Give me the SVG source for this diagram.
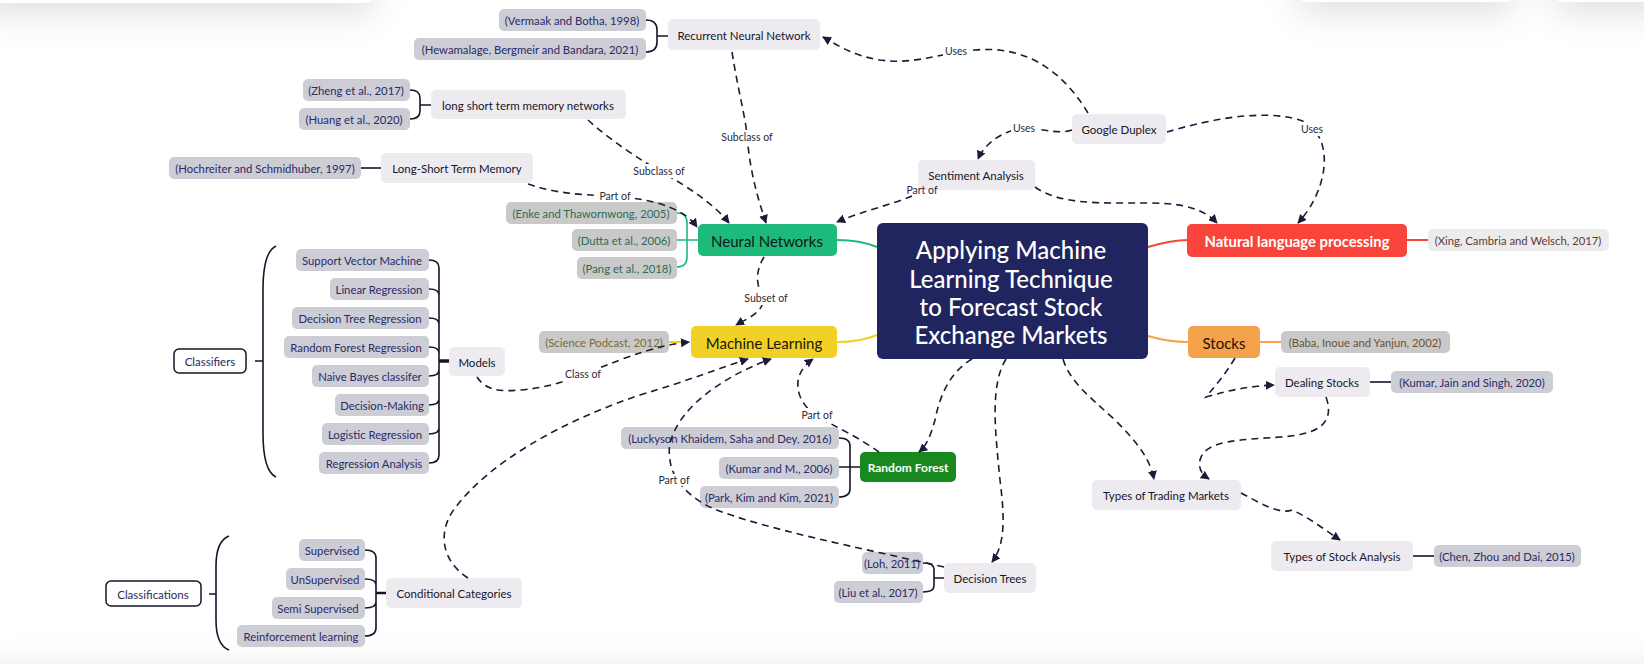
<svg xmlns="http://www.w3.org/2000/svg" width="1644" height="666" viewBox="0 0 1644 666">
<defs>
<filter id="sh" x="-50%" y="-200%" width="200%" height="500%"><feDropShadow dx="0" dy="8" stdDeviation="18" flood-color="#000" flood-opacity="0.14"/></filter>
<marker id="ah" viewBox="0 0 10 10" refX="9" refY="5" markerWidth="9" markerHeight="9" markerUnits="userSpaceOnUse" orient="auto"><path d="M0,0 L10,5 L0,10 z" fill="#1b1b3a"/></marker>
<style>
text{font-family:Lato,"Open Sans","Liberation Sans",sans-serif;dominant-baseline:central;text-anchor:middle}
.cite rect{fill:#cdcdd6}
.cite text{font-size:11.3px;fill:#2a2a66}
.cg rect{fill:#c9c9c9}
.plain rect{fill:#edebef}
.plain text{font-size:11.5px;fill:#15152b}
.out rect{fill:#fff;stroke:#15152b;stroke-width:1.5}
.out text{font-size:11.5px;fill:#2a2a55}
.dash{fill:none;stroke:#1b1b3a;stroke-width:1.6;stroke-dasharray:7 5}
.arr{marker-end:url(#ah)}
.br{fill:none;stroke:#15152b;stroke-width:1.6}
.lbl rect{fill:#fff}
.lbl text{font-size:10.5px;fill:#2a2a3a}
</style>
</defs>
<rect width="1644" height="666" fill="#fff"/>
<g id="ui-bg">
<rect x="-20" y="-40" width="393" height="43" rx="8" fill="#fff" filter="url(#sh)"/>
<rect x="1299" y="-40" width="214" height="42" rx="8" fill="#fff" filter="url(#sh)"/>
<rect x="1555" y="-40" width="120" height="42" rx="8" fill="#fff" filter="url(#sh)"/>
<rect x="-20" y="664" width="1700" height="40" fill="#fff" filter="url(#sh)"/>
</g>
<g id="branches">
<path d="M837,240 C855,240 865,242 877,247" fill="none" stroke="#1dba7b" stroke-width="2"/>
<path d="M837,342 C855,342 865,340 877,335" fill="none" stroke="#f1d125" stroke-width="2"/>
<path d="M1148,247 C1165,242 1175,240 1188,240" fill="none" stroke="#f8443a" stroke-width="2"/>
<path d="M1148,336 C1165,341 1175,342 1188,342" fill="none" stroke="#f5a24c" stroke-width="2"/>
<path d="M1407,240 H1428" stroke="#f8443a" stroke-width="2"/>
<path d="M1260,342 H1281" stroke="#f5a24c" stroke-width="2"/>
<path d="M669,342 H690" stroke="#f1d125" stroke-width="2"/>
<path d="M677,213 Q687,213 687,223 V257 Q687,267 677,267 M677,240 H698" fill="none" stroke="#1dba7b" stroke-width="1.6"/>
<path class="br" d="M646,20 Q657,20 657,30 V42 Q657,52 646,52 M657,36 H668"/>
<path class="br" d="M410,90 Q420,90 420,98 V111 Q420,119 410,119 M420,105 H431"/>
<path class="br" d="M361,168 H381"/>
<path class="br" d="M1370,382 H1391"/>
<path class="br" d="M1413,556 H1434"/>
<path class="br" d="M839,438 Q850,438 850,446 V489 Q850,497 839,497 M839,467 H860"/>
<path class="br" d="M923,563 Q934,563 934,569 V586 Q934,592 923,592 M934,578 H944"/>
<path class="br" d="M429,260 Q439,260 439,268 V455 Q439,463 429,463 M429,289 Q439,289 439,295 M429,318 Q439,318 439,324 M429,347 Q439,347 439,353 M429,376 Q439,376 439,370 M429,405 Q439,405 439,399 M429,434 Q439,434 439,428"/>
<path d="M439,361 H449" stroke="#15152b" stroke-width="3.5"/>
<path class="br" d="M276,246 Q263,252 263,290 V433 Q263,471 276,477 M255,361 H263"/>
<path class="br" d="M365,550 Q376,550 376,558 V628 Q376,636 365,636 M365,579 Q376,579 376,585 M365,608 Q376,608 376,602"/>
<path d="M376,593 H386" stroke="#15152b" stroke-width="2.5"/>
<path class="br" d="M229,536 Q216,541 216,566 V620 Q216,645 229,650 M209,594 H216"/>
</g>
<g id="central"><rect x="877" y="223" width="271" height="136" rx="6" fill="#20255f"/>
<text font-size="24" fill="#fff" font-weight="500"><tspan x="1011" y="249">Applying Machine</tspan><tspan x="1011" y="278">Learning Technique</tspan><tspan x="1011" y="306">to Forecast Stock</tspan><tspan x="1011" y="334">Exchange Markets</tspan></text></g>
<g id="neural-networks"><rect x="698" y="224" width="139" height="32" rx="5" fill="#1dba7b"/><text x="767" y="241" font-size="15" fill="#0d1a14">Neural Networks</text></g>
<g id="machine-learning"><rect x="691" y="326" width="146" height="32" rx="5" fill="#f1d125"/><text x="764" y="343" font-size="15" fill="#1a1606">Machine Learning</text></g>
<g id="nlp"><rect x="1187" y="224" width="220" height="33" rx="5" fill="#f8443a"/><text x="1297" y="241" font-size="14.8" font-weight="700" fill="#fff">Natural language processing</text></g>
<g id="stocks"><rect x="1188" y="326" width="72" height="32" rx="5" fill="#f5a24c"/><text x="1224" y="343" font-size="15" fill="#1a1206">Stocks</text></g>
<g id="random-forest"><rect x="860" y="452" width="96" height="30" rx="5" fill="#17891f"/><text x="908" y="467" font-size="12" font-weight="700" fill="#fff">Random Forest</text></g>
<g id="rnn" class="plain"><rect x="668" y="19" width="152" height="31" rx="5"/><text x="744" y="35">Recurrent Neural Network</text></g>
<g id="lstm-networks" class="plain"><rect x="431" y="90" width="195" height="29" rx="5"/><text x="528" y="105">long short term memory networks</text></g>
<g id="lstm" class="plain"><rect x="381" y="153" width="152" height="30" rx="5"/><text x="457" y="168">Long-Short Term Memory</text></g>
<g id="google-duplex" class="plain"><rect x="1072" y="114" width="94" height="30" rx="5"/><text x="1119" y="129">Google Duplex</text></g>
<g id="sentiment" class="plain"><rect x="918" y="160" width="117" height="30" rx="5"/><text x="976" y="175">Sentiment Analysis</text></g>
<g id="models" class="plain"><rect x="449" y="347" width="56" height="29" rx="5"/><text x="477" y="362">Models</text></g>
<g id="conditional" class="plain"><rect x="386" y="578" width="136" height="30" rx="5"/><text x="454" y="593">Conditional Categories</text></g>
<g id="decision-trees" class="plain"><rect x="944" y="563" width="92" height="30" rx="5"/><text x="990" y="578">Decision Trees</text></g>
<g id="dealing-stocks" class="plain"><rect x="1275" y="367" width="95" height="30" rx="5"/><text x="1322" y="382">Dealing Stocks</text></g>
<g id="trading-markets" class="plain"><rect x="1092" y="480" width="149" height="30" rx="5"/><text x="1166" y="495">Types of Trading Markets</text></g>
<g id="stock-analysis" class="plain"><rect x="1271" y="541" width="142" height="30" rx="5"/><text x="1342" y="556">Types of Stock Analysis</text></g>
<g id="classifiers" class="out"><rect x="174" y="349" width="72" height="24" rx="5"/><text x="210" y="361">Classifiers</text></g>
<g id="classifications" class="out"><rect x="106" y="581" width="95" height="25" rx="5"/><text x="153" y="594">Classifications</text></g>
<g id="c-vermaak" class="cite"><rect x="499" y="9" width="147" height="22" rx="5"/><text x="572" y="20">(Vermaak and Botha, 1998)</text></g>
<g id="c-hewamalage" class="cite"><rect x="414" y="38" width="232" height="22" rx="5"/><text x="530" y="49">(Hewamalage, Bergmeir and Bandara, 2021)</text></g>
<g id="c-zheng" class="cite"><rect x="303" y="79" width="107" height="22" rx="5"/><text x="356" y="90">(Zheng et al., 2017)</text></g>
<g id="c-huang" class="cite"><rect x="299" y="108" width="111" height="22" rx="5"/><text x="354" y="119">(Huang et al., 2020)</text></g>
<g id="c-hochreiter" class="cite"><rect x="169" y="157" width="192" height="22" rx="5"/><text x="265" y="168">(Hochreiter and Schmidhuber, 1997)</text></g>
<g id="c-enke" class="cite cg"><rect x="506" y="202" width="171" height="22" rx="5"/><text x="591" y="213" style="fill:#2e6b52">(Enke and Thawornwong, 2005)</text></g>
<g id="c-dutta" class="cite cg"><rect x="572" y="229" width="105" height="22" rx="5"/><text x="624" y="240" style="fill:#2e6b52">(Dutta et al., 2006)</text></g>
<g id="c-pang" class="cite cg"><rect x="577" y="257" width="100" height="22" rx="5"/><text x="627" y="268" style="fill:#2e6b52">(Pang et al., 2018)</text></g>
<g id="c-science" class="cite cg"><rect x="539" y="331" width="130" height="22" rx="5"/><text x="604" y="342" style="fill:#7a6b35">(Science Podcast, 2012)</text></g>
<g id="c-xing" class="cite"><rect x="1428" y="229" width="181" height="22" rx="5" style="fill:#ececec"/><text x="1518" y="240" style="fill:#5c3a3a">(Xing, Cambria and Welsch, 2017)</text></g>
<g id="c-baba" class="cite cg"><rect x="1281" y="331" width="169" height="22" rx="5"/><text x="1365" y="342" style="fill:#6b5236">(Baba, Inoue and Yanjun, 2002)</text></g>
<g id="c-kumar-jain" class="cite"><rect x="1391" y="371" width="162" height="22" rx="5"/><text x="1472" y="382">(Kumar, Jain and Singh, 2020)</text></g>
<g id="c-chen" class="cite"><rect x="1434" y="545" width="147" height="22" rx="5"/><text x="1507" y="556">(Chen, Zhou and Dai, 2015)</text></g>
<g id="c-luckyson" class="cite"><rect x="621" y="427" width="218" height="22" rx="5"/><text x="730" y="438">(Luckyson Khaidem, Saha and Dey, 2016)</text></g>
<g id="c-kumar-m" class="cite"><rect x="719" y="457" width="120" height="22" rx="5"/><text x="779" y="468">(Kumar and M., 2006)</text></g>
<g id="c-park" class="cite"><rect x="700" y="486" width="139" height="22" rx="5"/><text x="769" y="497">(Park, Kim and Kim, 2021)</text></g>
<g id="c-loh" class="cite"><rect x="862" y="552" width="61" height="22" rx="5"/><text x="892" y="563">(Loh, 2011)</text></g>
<g id="c-liu" class="cite"><rect x="834" y="581" width="89" height="22" rx="5"/><text x="878" y="592">(Liu et al., 2017)</text></g>
<g id="m-svm" class="cite"><rect x="296" y="249" width="133" height="22" rx="5"/><text x="362" y="260">Support Vector Machine</text></g>
<g id="m-linear" class="cite"><rect x="330" y="278" width="99" height="22" rx="5"/><text x="379" y="289">Linear Regression</text></g>
<g id="m-dtr" class="cite"><rect x="292" y="307" width="137" height="22" rx="5"/><text x="360" y="318">Decision Tree Regression</text></g>
<g id="m-rfr" class="cite"><rect x="284" y="336" width="145" height="22" rx="5"/><text x="356" y="347">Random Forest Regression</text></g>
<g id="m-nb" class="cite"><rect x="312" y="365" width="117" height="22" rx="5"/><text x="370" y="376">Naive Bayes classifer</text></g>
<g id="m-dm" class="cite"><rect x="335" y="394" width="94" height="22" rx="5"/><text x="382" y="405">Decision-Making</text></g>
<g id="m-logistic" class="cite"><rect x="322" y="423" width="107" height="22" rx="5"/><text x="375" y="434">Logistic Regression</text></g>
<g id="m-ra" class="cite"><rect x="319" y="452" width="110" height="22" rx="5"/><text x="374" y="463">Regression Analysis</text></g>
<g id="k-supervised" class="cite"><rect x="299" y="539" width="66" height="22" rx="5"/><text x="332" y="550">Supervised</text></g>
<g id="k-unsupervised" class="cite"><rect x="286" y="568" width="79" height="22" rx="5"/><text x="325" y="579">UnSupervised</text></g>
<g id="k-semi" class="cite"><rect x="272" y="597" width="93" height="22" rx="5"/><text x="318" y="608">Semi Supervised</text></g>
<g id="k-reinforcement" class="cite"><rect x="237" y="625" width="128" height="22" rx="5"/><text x="301" y="636">Reinforcement learning</text></g>
<g id="connectors">
<path class="dash arr" d="M1088,113 C1065,75 1030,45 975,50 C940,53 915,65 880,60 C855,56 840,47 823,37"/>
<path class="dash arr" d="M1072,130 C1060,134 1045,130 1030,128 C1005,128 985,143 978,159"/>
<path class="dash arr" d="M1167,132 C1200,122 1265,106 1305,122 C1335,140 1328,190 1298,223"/>
<path class="dash arr" d="M1035,187 C1060,205 1100,203 1150,203 C1185,203 1205,210 1217,223"/>
<path class="dash arr" d="M912,196 C890,205 860,212 837,222"/>
<path class="dash arr" d="M732,52 C738,90 745,115 747,135 C750,175 760,205 766,223"/>
<path class="dash arr" d="M588,120 C610,140 640,160 660,171 C690,188 715,205 729,223"/>
<path class="dash arr" d="M528,184 C560,195 590,195 614,196 C660,200 685,210 697,227"/>
<path class="dash arr" d="M764,257 C755,272 756,285 763,297 C765,312 748,318 736,325"/>
<path class="dash arr" d="M477,377 C485,390 500,392 520,390 C545,388 565,382 590,372 C630,355 660,345 689,342"/>
<path class="dash arr" d="M468,578 C440,560 438,530 455,508 C490,462 560,422 640,395 C690,380 720,368 748,359"/>
<path class="dash arr" d="M879,452 C860,438 832,425 815,415 C795,400 790,375 813,359"/>
<path class="dash arr" d="M944,567 C860,548 760,528 712,508 C690,498 672,480 670,460 C668,448 670,440 675,430 C692,395 740,370 771,359"/>
<path class="dash arr" d="M972,359 C950,372 940,395 935,420 C930,438 926,446 919,452"/>
<path class="dash arr" d="M1006,359 C990,385 995,430 1000,480 C1005,520 1005,545 992,562"/>
<path class="dash arr" d="M1063,359 C1070,382 1090,397 1115,420 C1140,445 1150,460 1154,479"/>
<path class="dash arr" d="M1235,358 C1225,375 1215,386 1206,397 C1230,390 1250,386 1274,385"/>
<path class="dash arr" d="M1326,397 C1336,425 1315,435 1280,437 C1240,440 1205,440 1200,460 C1198,470 1203,475 1209,479"/>
<path class="dash arr" d="M1241,493 C1260,503 1280,515 1292,510 C1310,518 1325,530 1340,540"/>
<g class="lbl">
<rect x="943" y="44" width="26" height="14"/><text x="956" y="51">Uses</text>
<rect x="1011" y="121" width="26" height="14"/><text x="1024" y="128">Uses</text>
<rect x="1299" y="122" width="26" height="14"/><text x="1312" y="129">Uses</text>
<text x="922" y="190">Part of</text>
<rect x="720" y="130" width="54" height="14"/><text x="747" y="137">Subclass of</text>
<rect x="632" y="164" width="54" height="14"/><text x="659" y="171">Subclass of</text>
<rect x="598" y="190" width="34" height="11"/><text x="615" y="196">Part of</text>
<rect x="744" y="291" width="44" height="14"/><text x="766" y="298">Subset of</text>
<rect x="565" y="367" width="36" height="14"/><text x="583" y="374">Class of</text>
<rect x="800" y="408" width="34" height="14"/><text x="817" y="415">Part of</text>
<rect x="656" y="474" width="36" height="12"/><text x="674" y="480">Part of</text>
</g>
</g>
</svg>
